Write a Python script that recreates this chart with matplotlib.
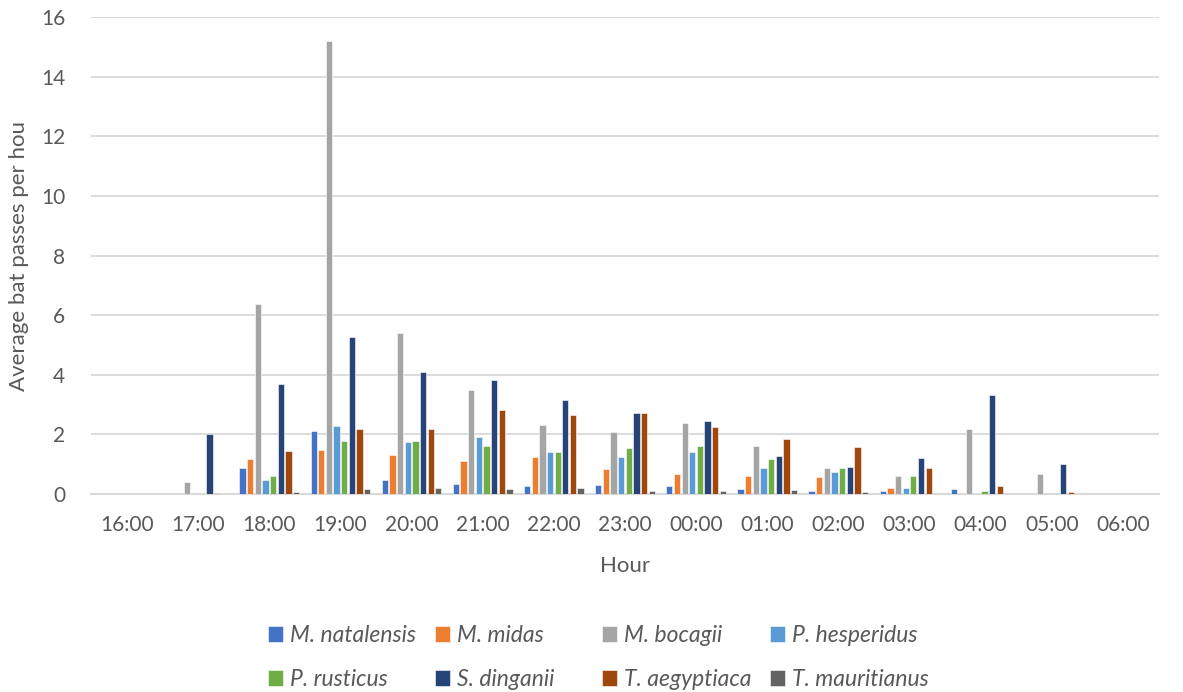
import numpy as np
import matplotlib.pyplot as plt

hours = ['16:00', '17:00', '18:00', '19:00', '20:00', '21:00', '22:00', '23:00',
         '00:00', '01:00', '02:00', '03:00', '04:00', '05:00', '06:00']

species = ['M. natalensis', 'M. midas', 'M. bocagii', 'P. hesperidus',
           'P. rusticus', 'S. dinganii', 'T. aegyptiaca', 'T. mauritianus']

natalensis = [0, 0, 0.86, 2.12, 0.46, 0.34, 0.27, 0.29, 0.26, 0.16, 0.09, 0.09, 0.17, 0.01, 0]
midas = [0, 0, 1.16, 1.46, 1.32, 1.11, 1.23, 0.84, 0.68, 0.59, 0.56, 0.19, 0.04, 0.01, 0]
bocagii = [0, 0.41, 6.36, 15.2, 5.4, 3.5, 2.31, 2.09, 2.39, 1.61, 0.87, 0.61, 2.19, 0.68, 0.01]
hesperidus = [0, 0.01, 0.47, 2.29, 1.74, 1.92, 1.41, 1.23, 1.40, 0.87, 0.73, 0.21, 0.02, 0, 0]
rusticus = [0, 0.01, 0.59, 1.78, 1.79, 1.61, 1.40, 1.56, 1.62, 1.16, 0.86, 0.59, 0.11, 0, 0]
dinganii = [0, 2.02, 3.69, 5.26, 4.1, 3.84, 3.15, 2.73, 2.44, 1.26, 0.92, 1.21, 3.33, 1.02, 0]
aegyptiaca = [0, 0.02, 1.43, 2.18, 2.18, 2.82, 2.65, 2.73, 2.25, 1.85, 1.59, 0.88, 0.28, 0.08, 0.01]
mauritianus = [0, 0.01, 0.07, 0.18, 0.21, 0.18, 0.2, 0.1, 0.11, 0.12, 0.07, 0.04, 0.02, 0.01, 0.02]

series = [natalensis, midas, bocagii, hesperidus, rusticus, dinganii, aegyptiaca, mauritianus]
colors = ['#4472C4', '#ED7D31', '#A5A5A5', '#5B9BD5',
          '#70AD47', '#264478', '#9E480E', '#636363']

plt.rcParams['font.family'] = ['Lato', 'DejaVu Sans']
text_col = '#595959'
grid_col = '#D9D9D9'

fig = plt.figure(figsize=(11.83, 6.92), dpi=100)
ax = fig.add_axes([0.0773, 0.2861, 0.9020, 0.6893])

x = np.arange(len(hours))
slot = 0.86 / len(series)
bars = []
for i, (vals, name, col) in enumerate(zip(series, species, colors)):
    offs = (i - (len(series) - 1) / 2) * slot
    b = ax.bar(x + offs, vals, width=slot * 0.82, color=col, label=name,
               edgecolor='white', linewidth=0.4, zorder=3)
    bars.append(b)

ax.set_xlim(-0.5, len(hours) - 0.5)
ax.set_ylim(0, 16)
ax.set_yticks(np.arange(0, 17, 2))
ax.set_xticks(x)
ax.set_xticklabels(hours)
ax.yaxis.grid(True, color=grid_col, linewidth=1.3, zorder=0)
ax.set_axisbelow(True)
for s in ['top', 'right', 'left']:
    ax.spines[s].set_visible(False)
ax.spines['bottom'].set_color(grid_col)
ax.spines['bottom'].set_linewidth(1.5)
ax.tick_params(axis='both', length=0, labelsize=15, colors=text_col)
ax.tick_params(axis='y', pad=19)
ax.tick_params(axis='x', pad=15)

ax.set_xlabel('Hour', fontsize=16, color=text_col, labelpad=15)
fig.text(0.016, 0.63, 'Average bat passes per hou', rotation=90,
         fontsize=16, color=text_col, ha='center', va='center')

# legend: 2 rows x 4 equal-width columns, filled row by row
col_left = [268, 435, 602, 770]
for c, xl in enumerate(col_left):
    idx = [c, c + 4]
    leg = fig.legend([bars[k] for k in idx], [species[k] for k in idx],
                     loc='center left', bbox_to_anchor=(xl / 1183, 0.0499),
                     frameon=False, borderpad=0, borderaxespad=0,
                     handlelength=0.65, handleheight=0.65, handletextpad=0.3,
                     labelspacing=1.0, prop={'style': 'italic', 'size': 16.5})
    for t in leg.get_texts():
        t.set_color(text_col)

fig.savefig('out.png', dpi=100)
